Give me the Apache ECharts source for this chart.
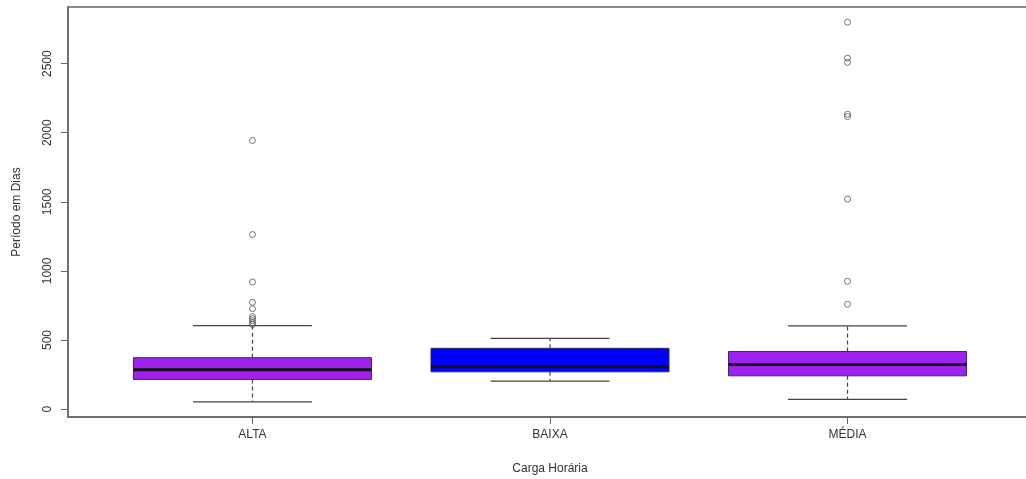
<!DOCTYPE html>
<html lang="pt">
<head>
    <meta charset="UTF-8">
    <title>Boxplot</title>
    <script src="https://cdn.jsdelivr.net/npm/echarts@6/dist/echarts.min.js"></script>
</head>
<style>
    html, body { margin: 0; padding: 0; background: #fff; }
    #chart { width: 1026px; height: 479px; }
</style>
<body>
<div id="chart"></div>
<script>
    // categorias e estatisticas
    let categorias = ['ALTA', 'BAIXA', 'MÉDIA']
    let cores = ['#a020f0', '#0000ff', '#a020f0']
    // [bigode inferior, Q1, mediana, Q3, bigode superior]
    let caixas = [
        [53, 215, 285, 372, 604],
        [203, 270, 307, 440, 512],
        [70, 241, 323, 417, 602]
    ]
    let outliersAlta = [1944, 1263, 920, 773, 727, 670, 655, 640, 625, 612]
    let outliersBaixa = []
    let outliersMedia = [2800, 2540, 2509, 2134, 2117, 1520, 925, 759]
    let ticksY = [0, 500, 1000, 1500, 2000, 2500]

    let boxData = caixas.map(function (c, i) { return [i + 1].concat(c) })
    let outData = []
    ;[outliersAlta, outliersBaixa, outliersMedia].forEach(function (arr, i) {
        arr.forEach(function (v) { outData.push([i + 1, v]) })
    })

    let fonte = 'Liberation Sans, Arial, sans-serif'
    let linha = '#444'

    let option = {
        animation: false,
        backgroundColor: '#fff',
        grid: {
            left: 68, right: -6, top: 7, bottom: 62,
            outerBoundsMode: 'none', containLabel: false,
            show: true, borderColor: '#666', borderWidth: 1.5, backgroundColor: 'transparent'
        },
        xAxis: {
            type: 'value', min: 0.38, max: 3.62,
            name: 'Carga Horária', nameLocation: 'middle', nameGap: 46,
            nameTextStyle: {fontFamily: fonte, fontSize: 12, color: '#333'},
            axisLine: {show: true, onZero: false, lineStyle: {color: '#666', width: 1.5}},
            axisTick: {show: true, length: 7, customValues: [1, 2, 3], lineStyle: {color: '#666'}},
            axisLabel: {
                customValues: [1, 2, 3], margin: 12,
                fontFamily: fonte, fontSize: 12, color: '#333',
                formatter: function (v) { return categorias[Math.round(v) - 1] }
            },
            splitLine: {show: false}
        },
        yAxis: {
            type: 'value', min: -57, max: 2910,
            name: 'Período em Dias', nameLocation: 'middle', nameGap: 45, nameRotate: 90,
            nameTextStyle: {fontFamily: fonte, fontSize: 12, color: '#333'},
            axisLine: {show: true, onZero: false, lineStyle: {color: '#666', width: 1.5}},
            axisTick: {show: true, length: 7, customValues: ticksY, lineStyle: {color: '#666'}},
            axisLabel: {
                customValues: ticksY, rotate: 90, margin: 14,
                fontFamily: fonte, fontSize: 12, color: '#333',
                formatter: function (v) { return String(v) }
            },
            splitLine: {show: false}
        },
        series: [
            {
                type: 'custom',
                data: boxData,
                encode: {x: 0, y: [1, 2, 3, 4, 5]},
                renderItem: function (params, api) {
                    let x = api.value(0)
                    let i = params.dataIndex
                    let p = function (xx, v) { return api.coord([xx, v]) }
                    let lo = api.value(1), q1 = api.value(2), md = api.value(3), q3 = api.value(4), hi = api.value(5)
                    let bw = 0.4, sw = 0.2
                    let a = p(x - bw, q3), b = p(x + bw, q1)
                    let tracejado = {stroke: linha, lineWidth: 1.2, lineDash: [4, 3]}
                    let solido = {stroke: linha, lineWidth: 1.2}
                    return {
                        type: 'group',
                        children: [
                            {type: 'line', shape: {x1: p(x, q3)[0], y1: p(x, q3)[1], x2: p(x, hi)[0], y2: p(x, hi)[1]}, style: tracejado},
                            {type: 'line', shape: {x1: p(x, q1)[0], y1: p(x, q1)[1], x2: p(x, lo)[0], y2: p(x, lo)[1]}, style: tracejado},
                            {type: 'line', shape: {x1: p(x - sw, hi)[0], y1: p(x, hi)[1], x2: p(x + sw, hi)[0], y2: p(x, hi)[1]}, style: solido},
                            {type: 'line', shape: {x1: p(x - sw, lo)[0], y1: p(x, lo)[1], x2: p(x + sw, lo)[0], y2: p(x, lo)[1]}, style: solido},
                            {type: 'rect', shape: {x: a[0], y: a[1], width: b[0] - a[0], height: b[1] - a[1]},
                                style: {fill: cores[i], stroke: '#3a2a5a', lineWidth: 1}},
                            {type: 'line', shape: {x1: a[0], y1: p(x, md)[1], x2: b[0], y2: p(x, md)[1]},
                                style: {stroke: '#111', lineWidth: 3}}
                        ]
                    }
                }
            },
            {
                type: 'scatter',
                data: outData,
                symbol: 'circle',
                symbolSize: 6,
                itemStyle: {color: 'rgba(255,255,255,0)', borderColor: '#555', borderWidth: 1}
            }
        ]
    }

    let chart = echarts.init(document.getElementById('chart'))
    chart.setOption(option)
</script>
</body>
</html>
